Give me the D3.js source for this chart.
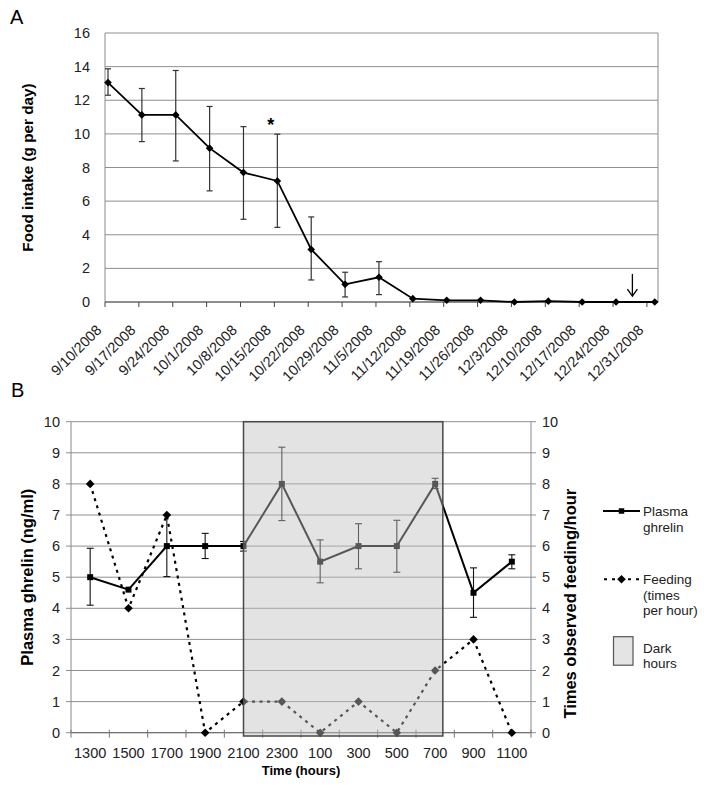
<!DOCTYPE html>
<html><head><meta charset="utf-8">
<script src="https://cdn.jsdelivr.net/npm/d3@7"></script>
<style>
body{margin:0;background:#fff}
svg{display:block;font-family:Arial,"Liberation Sans",sans-serif}
</style>
</head><body>
<svg id="chart" width="704" height="793"></svg>
<script>
// ---------- Panel A data ----------
const intakeLabels = ["9/10/2008","9/17/2008","9/24/2008","10/1/2008","10/8/2008","10/15/2008","10/22/2008","10/29/2008","11/5/2008","11/12/2008","11/19/2008","11/26/2008","12/3/2008","12/10/2008","12/17/2008","12/24/2008","12/31/2008"];
const intakeDates  = ["2008-09-10","2008-09-17","2008-09-24","2008-10-01","2008-10-08","2008-10-15","2008-10-22","2008-10-29","2008-11-05","2008-11-12","2008-11-19","2008-11-26","2008-12-03","2008-12-10","2008-12-17","2008-12-24","2009-01-01"];
const intakeMean = [13.05,11.13,11.13,9.15,7.7,7.2,3.13,1.05,1.47,0.2,0.1,0.1,0.0,0.05,0.0,0.0,0.0];
const intakeLow  = [12.3,9.54,8.39,6.61,4.92,4.44,1.31,0.3,0.44,null,null,null,null,null,null,null,null];
const intakeHigh = [13.87,12.7,13.77,11.63,10.43,9.98,5.06,1.77,2.4,null,null,null,null,null,null,null,null];
const intakeTicks = [0,2,4,6,8,10,12,14,16];
const starDate = "10/15/2008";
const arrowDate = "2008-12-28";
const arrowRange = [1.67, 0.35];

// ---------- Panel B data ----------
const hours = ["1300","1500","1700","1900","2100","2300","100","300","500","700","900","1100"];
const ghrelin     = [5.0,4.6,6.0,6.0,6.0,8.0,5.5,6.0,6.0,8.0,4.5,5.5];
const ghrelinLow  = [4.1,null,5.02,5.6,5.84,6.82,4.82,5.27,5.16,7.85,3.71,5.27];
const ghrelinHigh = [5.93,null,7.0,6.41,6.15,9.18,6.2,6.72,6.83,8.18,5.3,5.72];
const feeding = [8,4,7,0,1,1,0,1,0,2,3,0];
const bTicks = [0,1,2,3,4,5,6,7,8,9,10];
const darkHours = [21, 7.4];

const svg = d3.select("#chart");
const parseLbl = d3.utcParse("%m/%d/%Y");
const parseISO = d3.utcParse("%Y-%m-%d");
const GRID = "#8f8f8f", AXIS = "#8a8a8a";
const diamond = r => `M0,${-r}L${r},0L0,${r}L${-r},0Z`;

// ================= PANEL A =================
(function(){
  const L=105, R=658, T=33, B=302;
  const d0 = parseISO("2008-09-10");
  const x = d3.scaleUtc().domain([d0, d3.utcHour.offset(d0, 114.3*24)]).range([L, R]);
  const y = d3.scaleLinear().domain([0,16]).range([B, T]);
  const g = svg.append("g");
  const ptx = d => x(parseISO(d)) + 3;

  svg.append("text").attr("x",10).attr("y",24).attr("font-size",20).text("A");

  g.selectAll(".grid").data(intakeTicks).join("line")
    .attr("x1",L).attr("x2",R).attr("y1",d=>y(d)).attr("y2",d=>y(d))
    .attr("stroke",GRID).attr("stroke-width",1);
  g.append("line").attr("x1",L).attr("x2",L).attr("y1",T).attr("y2",B).attr("stroke",AXIS);
  g.append("line").attr("x1",R).attr("x2",R).attr("y1",T).attr("y2",B).attr("stroke",AXIS);
  g.append("line").attr("x1",L).attr("x2",R).attr("y1",B).attr("y2",B).attr("stroke","#555");

  g.selectAll(".yl").data(intakeTicks).join("text")
    .attr("x",L-15).attr("y",d=>y(d)).attr("dy","0.35em").attr("text-anchor","end")
    .attr("font-size",14.5).attr("fill","#222").text(d=>d);

  g.selectAll(".xt").data(intakeLabels).join("line")
    .attr("x1",d=>x(parseLbl(d))).attr("x2",d=>x(parseLbl(d)))
    .attr("y1",B).attr("y2",B+5).attr("stroke","#444");
  g.selectAll(".xl").data(intakeLabels).join("text").attr("class","xl")
    .attr("transform",d=>`translate(${x(parseLbl(d))-2.5},${B+29}) rotate(-45)`)
    .attr("text-anchor","end").attr("font-size",14.5).attr("fill","#222").text(d=>d);

  svg.append("text").attr("transform",`translate(33,${(T+B)/2}) rotate(-90)`)
    .attr("text-anchor","middle").attr("font-size",15.3).attr("font-weight","bold").text("Food intake (g per day)");

  const eb = intakeMean.map((m,i)=>({d:intakeDates[i],lo:intakeLow[i],hi:intakeHigh[i]})).filter(e=>e.lo!=null);
  const ebg = g.selectAll(".eb").data(eb).join("g").attr("stroke","#333").attr("stroke-width",1.2);
  ebg.append("line").attr("x1",e=>ptx(e.d)).attr("x2",e=>ptx(e.d)).attr("y1",e=>y(e.lo)).attr("y2",e=>y(e.hi));
  ebg.append("line").attr("x1",e=>ptx(e.d)-3).attr("x2",e=>ptx(e.d)+3).attr("y1",e=>y(e.lo)).attr("y2",e=>y(e.lo));
  ebg.append("line").attr("x1",e=>ptx(e.d)-3).attr("x2",e=>ptx(e.d)+3).attr("y1",e=>y(e.hi)).attr("y2",e=>y(e.hi));

  const pts = intakeMean.map((m,i)=>[ptx(intakeDates[i]), y(m)]);
  g.append("path").attr("d",d3.line()(pts)).attr("fill","none").attr("stroke","#000").attr("stroke-width",1.8);
  g.selectAll(".mk").data(pts).join("path")
    .attr("transform",p=>`translate(${p[0]},${p[1]})`)
    .attr("d",diamond(3.8)).attr("fill","#000");

  const si = intakeLabels.indexOf(starDate);
  svg.append("text").attr("x",x(parseLbl(starDate))-3.5).attr("y",y(intakeHigh[si])-3)
    .attr("text-anchor","middle").attr("font-size",18).attr("font-weight","bold").text("*");

  const ax = x(parseISO(arrowDate));
  const a1 = y(arrowRange[0]), a2 = y(arrowRange[1]);
  svg.append("line").attr("x1",ax).attr("x2",ax).attr("y1",a1).attr("y2",a2).attr("stroke","#000").attr("stroke-width",1.3);
  svg.append("path").attr("d",`M${ax-5},${a2-7}L${ax},${a2}L${ax+5},${a2-7}`).attr("fill","none").attr("stroke","#000").attr("stroke-width",1.3);
})();

// ================= PANEL B =================
(function(){
  const L=71, R=531, T=421.7, B=732.7;
  const x = d3.scaleLinear().domain([-0.5, hours.length-0.5]).range([L,R]);
  const y = d3.scaleLinear().domain([0,10]).range([B,T]);
  const hourIdx = h => ((h - 13 + 24) % 24)/2;
  const g = svg.append("g");

  svg.append("text").attr("x",11).attr("y",397).attr("font-size",20).text("B");

  g.selectAll(".grid").data(bTicks).join("line")
    .attr("x1",L-5).attr("x2",R+5).attr("y1",d=>y(d)).attr("y2",d=>y(d))
    .attr("stroke",GRID);
  g.append("line").attr("x1",L).attr("x2",L).attr("y1",T).attr("y2",B).attr("stroke",AXIS);
  g.append("line").attr("x1",R).attr("x2",R).attr("y1",T).attr("y2",B).attr("stroke",AXIS);
  g.append("line").attr("x1",L).attr("x2",R).attr("y1",B).attr("y2",B).attr("stroke","#666");
  g.selectAll(".xt").data(d3.range(hours.length+1)).join("line")
    .attr("x1",i=>x(i-0.5)).attr("x2",i=>x(i-0.5)).attr("y1",B-3).attr("y2",B+5).attr("stroke","#777");

  g.selectAll(".yl").data(bTicks).join("text")
    .attr("x",L-11).attr("y",d=>y(d)).attr("dy","0.35em").attr("text-anchor","end")
    .attr("font-size",14.5).attr("fill","#222").text(d=>d);
  g.selectAll(".yr").data(bTicks).join("text")
    .attr("x",R+11).attr("y",d=>y(d)).attr("dy","0.35em").attr("text-anchor","start")
    .attr("font-size",14.5).attr("fill","#222").text(d=>d);
  g.selectAll(".xl").data(hours).join("text")
    .attr("x",(d,i)=>x(i)).attr("y",758).attr("text-anchor","middle")
    .attr("font-size",14.5).attr("fill","#222").text(d=>d);

  svg.append("text").attr("x",(L+R)/2).attr("y",775).attr("text-anchor","middle")
    .attr("font-size",13).attr("font-weight","bold").text("Time (hours)");
  svg.append("text").attr("transform",`translate(32.5,${(T+B)/2}) rotate(-90)`)
    .attr("text-anchor","middle").attr("font-size",16.5).attr("font-weight","bold").text("Plasma ghrelin (ng/ml)");
  svg.append("text").attr("transform",`translate(576,603.7) rotate(-90)`)
    .attr("text-anchor","middle").attr("font-size",16.5).attr("font-weight","bold").text("Times observed feeding/hour");

  const eb = ghrelin.map((m,i)=>({i,lo:ghrelinLow[i],hi:ghrelinHigh[i]})).filter(e=>e.lo!=null);
  const ebg = g.selectAll(".eb").data(eb).join("g").attr("stroke","#111").attr("stroke-width",1.1);
  ebg.append("line").attr("x1",e=>x(e.i)).attr("x2",e=>x(e.i)).attr("y1",e=>y(e.lo)).attr("y2",e=>y(e.hi));
  ebg.append("line").attr("x1",e=>x(e.i)-3.5).attr("x2",e=>x(e.i)+3.5).attr("y1",e=>y(e.lo)).attr("y2",e=>y(e.lo));
  ebg.append("line").attr("x1",e=>x(e.i)-3.5).attr("x2",e=>x(e.i)+3.5).attr("y1",e=>y(e.hi)).attr("y2",e=>y(e.hi));

  const gp = ghrelin.map((v,i)=>[x(i),y(v)]);
  const fp = feeding.map((v,i)=>[x(i),y(v)]);
  g.append("path").attr("d",d3.line()(fp)).attr("fill","none").attr("stroke","#000")
    .attr("stroke-width",2.2).attr("stroke-dasharray","3,4.5");
  g.append("path").attr("d",d3.line()(gp)).attr("fill","none").attr("stroke","#000").attr("stroke-width",2);
  g.selectAll(".gm").data(gp).join("path").attr("transform",p=>`translate(${p[0]},${p[1]})`)
    .attr("d",d3.symbol(d3.symbolSquare,36)).attr("fill","#000");
  g.selectAll(".fm").data(fp).join("path").attr("transform",p=>`translate(${p[0]},${p[1]})`)
    .attr("d",diamond(4.3)).attr("fill","#000");

  const dx0 = x(hourIdx(darkHours[0])), dx1 = x(hourIdx(darkHours[1]));
  g.append("rect").attr("x",dx0).attr("y",T).attr("width",dx1-dx0).attr("height",B-T+3.3)
    .attr("fill","rgb(192,192,192)").attr("fill-opacity",0.45)
    .attr("stroke","#484848").attr("stroke-width",1.5);

  const lg = svg.append("g").attr("font-size",13.5).attr("fill","#222");
  lg.append("line").attr("x1",603).attr("x2",640).attr("y1",511).attr("y2",511).attr("stroke","#000").attr("stroke-width",2);
  lg.append("path").attr("transform","translate(621.5,511)").attr("d",d3.symbol(d3.symbolSquare,30)).attr("fill","#000");
  ["Plasma","ghrelin"].forEach((t,i)=>lg.append("text").attr("x",643).attr("y",516+i*15.7).text(t));
  lg.append("line").attr("x1",604).attr("x2",640).attr("y1",579.3).attr("y2",579.3).attr("stroke","#000")
    .attr("stroke-width",2).attr("stroke-dasharray","3,5");
  lg.append("path").attr("transform","translate(621.5,579.3)").attr("d",diamond(4.3)).attr("fill","#000");
  ["Feeding","(times","per hour)"].forEach((t,i)=>lg.append("text").attr("x",643).attr("y",584+i*15.7).text(t));
  lg.append("rect").attr("x",613.5).attr("y",636.7).attr("width",19.5).attr("height",28.5)
    .attr("fill","#e4e4e4").attr("stroke","#555").attr("stroke-width",1.2);
  ["Dark","hours"].forEach((t,i)=>lg.append("text").attr("x",643).attr("y",652.5+i*15.7).text(t));
})();
</script>
</body></html>
